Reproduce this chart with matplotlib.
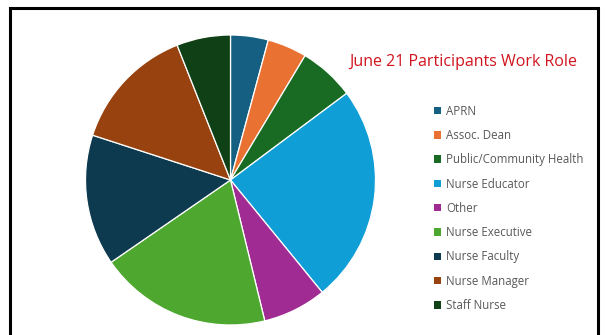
import matplotlib
matplotlib.use("Agg")
import matplotlib.pyplot as plt
from matplotlib.patches import Patch, Rectangle

# work roles and their share of participants (%)
roles = ["APRN", "Assoc. Dean", "Public/Community Health", "Nurse Educator",
         "Other", "Nurse Executive", "Nurse Faculty", "Nurse Manager", "Staff Nurse"]
shares = [4.2, 4.4, 6.2, 24.3, 7.1, 19.2, 14.6, 14.0, 6.0]
colors = ["#156082", "#E97132", "#196B24", "#0F9ED5", "#A02B93",
          "#4EA72E", "#0E3A4F", "#97420F", "#104116"]

W, H = 605, 335
fig = plt.figure(figsize=(W / 100, H / 100), dpi=100)

# pie centred at (230.5, 180) px, radius 145 px
cx, cy, r = 230.5, 180, 145
ax = fig.add_axes([(cx - r) / W, (H - cy - r) / H, 2 * r / W, 2 * r / H])
ax.pie(shares, colors=colors, startangle=90, counterclock=False,
       wedgeprops=dict(edgecolor="white", linewidth=0.9))
ax.set_xlim(-1, 1)
ax.set_ylim(-1, 1)

fig.text(349 / W, 1 - 66.5 / H, "June 21 Participants Work Role", color="#D0141E",
         fontsize=11.5, family="Open Sans", ha="left", va="baseline")

handles = [Patch(facecolor=c, edgecolor="none") for c in colors]
leg = fig.legend(handles, roles, loc="upper left", bbox_to_anchor=(429 / W, 1 - 100 / H),
                 frameon=False, handlelength=0.6, handleheight=0.6,
                 handletextpad=0.5, labelspacing=0.98, borderaxespad=0,
                 prop=dict(family="Open Sans", size=8.3))
for t in leg.get_texts():
    t.set_color("#595959")

# black frame around the chart (bottom edge is cut off)
fig.patches.append(Rectangle((9.5 / W, -0.1), 588 / W, 1.1 - 8 / H,
                             transform=fig.transFigure, fill=False,
                             edgecolor="black", linewidth=2.2))

fig.savefig("out.png", dpi=100)
